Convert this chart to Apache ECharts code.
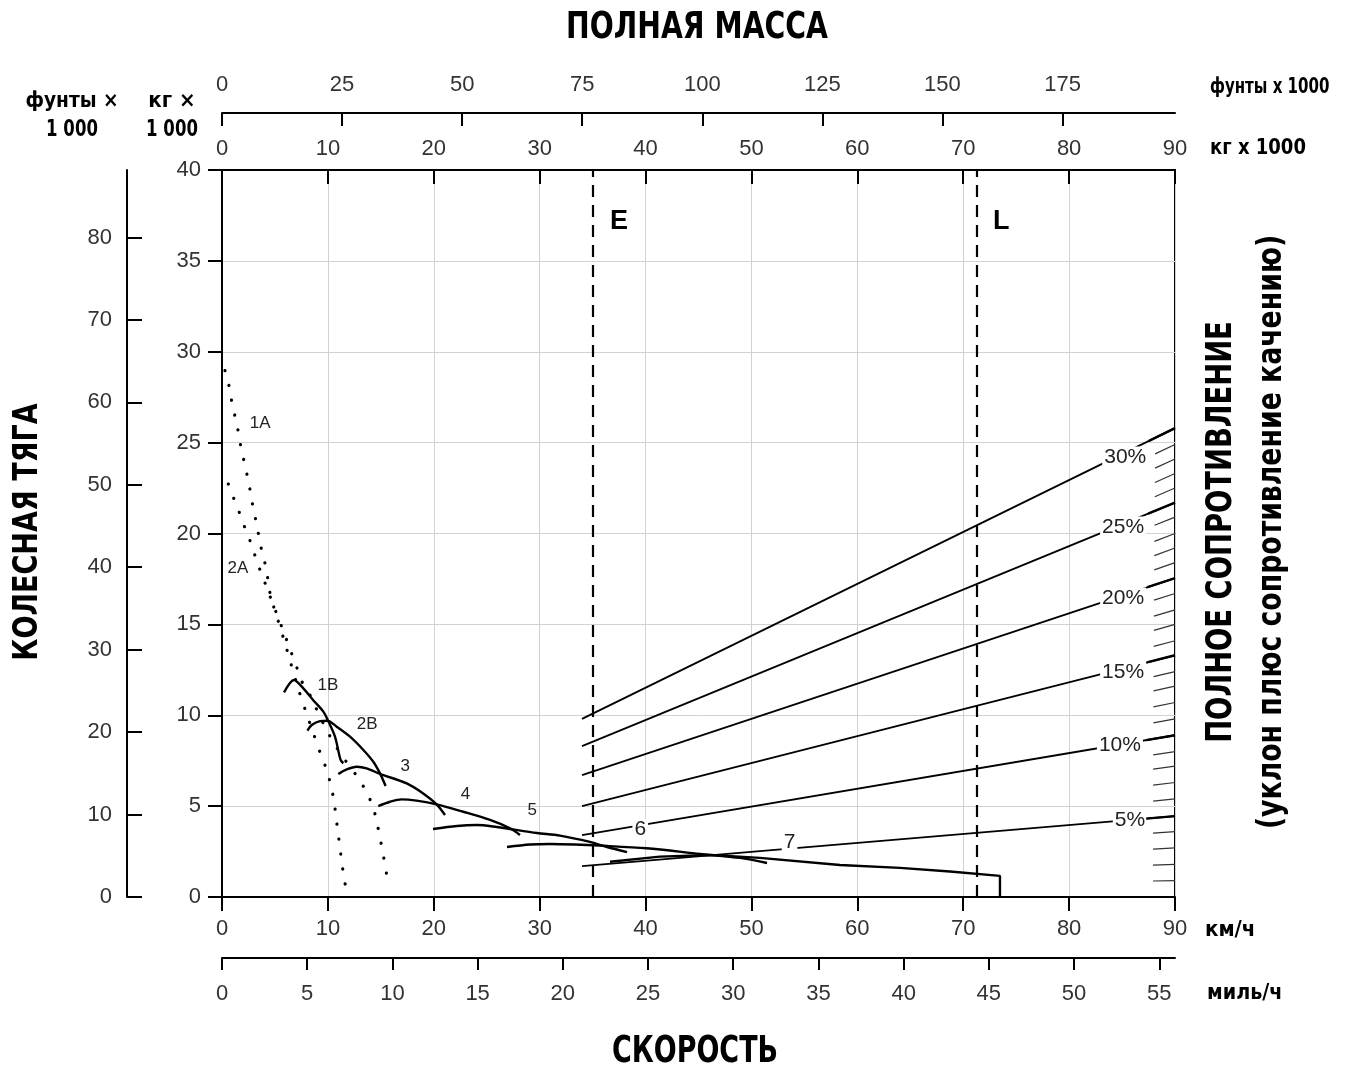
<!DOCTYPE html>
<html><head><meta charset="utf-8">
<script src="https://cdn.jsdelivr.net/npm/echarts@6/dist/echarts.min.js"></script>
<style>html,body{margin:0;padding:0;background:#fff}#c{width:1359px;height:1066px}</style>
</head><body><div id="c"></div><script>
// ---- tick labels ----
const massKgTicks = [0, 10, 20, 30, 40, 50, 60, 70, 80, 90];
const massLbTicks = [0, 25, 50, 75, 100, 125, 150, 175];
const speedMphTicks = [0, 5, 10, 15, 20, 25, 30, 35, 40, 45, 50, 55];
const pullKgTicks = [0, 5, 10, 15, 20, 25, 30, 35, 40];
const pullLbTicks = [0, 10, 20, 30, 40, 50, 60, 70, 80];

// ---- rimpull curves: [speed km/h, rimpull kg x 1000] ----
const gear1A = [[0.28,28.96],[0.66,28.13],[0.91,27.29],[1.23,26.43],[1.54,25.6],[1.79,24.74],[2.11,23.9],[2.42,23.07],[2.71,22.21],[2.96,21.35],[3.27,20.52],[3.53,19.68],[3.84,18.82],[4.22,17.99],[4.41,17.07],[4.78,16.16],[5.16,15.46],[5.86,14.14],[6.52,12.82],[7.18,11.5],[7.93,10.18],[8.69,8.91],[9.35,7.81],[9.92,6.93],[10.29,6.11],[10.58,5.28],[10.77,4.4],[10.95,3.58],[11.14,2.7],[11.33,1.87],[11.52,1.05],[11.8,0.22]];
const gear2A = [[0.6,22.72],[1.13,21.9],[1.7,21.06],[2.24,20.19],[2.8,19.37],[3.27,18.5],[3.81,17.66],[4.37,16.8],[5.1,15.68],[5.86,14.53],[6.52,13.48],[7.08,12.6],[7.65,11.72],[8.47,10.95],[9.09,10.12],[9.89,9.19],[10.67,8.36],[11.62,7.54],[12.72,6.66],[13.6,5.83],[14.26,4.95],[14.64,4.07],[14.92,3.25],[15.2,2.42],[15.44,1.6],[15.7,0.77]];
const gear1B = [[5.86,11.26],[6.8,11.94],[7.68,11.48],[8.6,10.84],[9.57,10.2],[9.95,9.78],[10.67,8.82],[11.2,7.54],[11.46,7.36]];
const gear2B = [[8.06,9.15],[8.47,9.46],[9.25,9.68],[9.95,9.7],[10.83,9.37],[12.09,8.82],[13.35,8.09],[14.29,7.44],[14.92,6.8],[15.45,6.11]];
const gear3 = [[10.98,6.77],[11.78,7.02],[12.72,7.17],[13.66,7.08],[14.92,6.77],[17.44,6.25],[19.0,5.7],[20.27,5.1],[21.06,4.51]];
const gear4 = [[14.76,5.0],[15.87,5.24],[16.97,5.37],[18.38,5.3],[20.27,5.1],[22.79,4.69],[25.31,4.24],[27.2,3.78],[28.14,3.41]];
const gear5 = [[19.93,3.74],[22.19,3.91],[24.08,3.96],[25.97,3.85],[27.2,3.74],[29.75,3.52],[31.92,3.38],[34.75,3.03],[36.36,2.75],[38.25,2.47]];
const gear6 = [[26.91,2.75],[29.09,2.89],[30.98,2.92],[33.34,2.89],[35.7,2.83],[40.1,2.68],[45.14,2.37],[48.92,2.15],[51.47,1.87]];
const gear7 = [[36.64,1.94],[41.36,2.22],[46.09,2.31],[50.8,2.15],[58.36,1.76],[64.03,1.6],[68.75,1.4],[73.47,1.16],[73.47,0]];

// ---- total resistance (grade) lines: value at mass 34 and at mass 90 ----
const gradeNames = ['5%', '10%', '15%', '20%', '25%', '30%'];
const gradeMassRange = [34, 90];
const gradeStart = [1.7, 3.4, 5.0, 6.7, 8.3, 9.8];
const gradeEnd = [4.45, 8.9, 13.3, 17.55, 21.7, 25.8];

// ---- grade scale ticks on right edge (value at mass 90) ----
const hatchGrades = [1,2,3,4,5,6,7,8,9,10,11,12,13,14,15,16,17,18,19,20,21,22,23,24,25,26,27,28,29,30];
const hatchValues = [0.9,1.8,2.7,3.6,4.45,5.4,6.3,7.2,8.0,8.9,9.8,10.7,11.6,12.4,13.3,14.1,15.0,15.8,16.7,17.55,18.4,19.2,20.0,20.9,21.7,22.5,23.3,24.1,24.9,25.8];

// ---- empty / loaded mass markers ----
const markerNames = ['E', 'L'];
const markerMass = [35, 71.3];

const LB_PER_KG = 2.20462;
const KMH_PER_MPH = 1.609344;

const numFont = "'Liberation Sans', Arial, sans-serif";
const boldFont = "'Liberation Sans Narrow', 'DejaVu Sans Condensed', 'Arial Narrow', sans-serif";

const chart = echarts.init(document.getElementById('c'), null, {renderer: 'canvas'});

function gearSeries(name, data, dotted, smooth) {
  return {
    name: name, type: 'line', data: data, showSymbol: false, symbol: 'none',
    smooth: smooth, z: 5, silent: true,
    lineStyle: dotted
      ? {color: '#000', width: 3.2, type: [0.1, 15], cap: 'round'}
      : {color: '#000', width: 2.4}
  };
}

const series = [
  gearSeries('1A', gear1A, true, 0.3),
  gearSeries('2A', gear2A, true, 0.3),
  gearSeries('1B', gear1B, false, 0.3),
  gearSeries('2B', gear2B, false, 0.3),
  gearSeries('3', gear3, false, 0.3),
  gearSeries('4', gear4, false, 0.3),
  gearSeries('5', gear5, false, 0.3),
  gearSeries('6', gear6, false, 0.3),
  gearSeries('7', gear7, false, false)
];

gradeNames.forEach(function (g, i) {
  series.push({
    name: g, type: 'line', showSymbol: false, symbol: 'none', z: 4, silent: true,
    data: [[gradeMassRange[0], gradeStart[i]], [gradeMassRange[1], gradeEnd[i]]],
    lineStyle: {color: '#000', width: 1.8}
  });
});

series.push({
  type: 'custom', z: 8, silent: true,
  data: hatchGrades.map(function (g, i) { return [g, hatchValues[i]]; }),
  renderItem: function (params, api) {
    const g = api.value(0), v = api.value(1);
    const p1 = api.coord([massKgTicks[massKgTicks.length - 1], v]);
    const p0 = api.coord([0, 0]);
    const dx = p0[0] - p1[0], dy = p0[1] - p1[1];
    const L = Math.hypot(dx, dy);
    const major = g % 5 === 0;
    const len = major ? 29 : 22;
    return {
      type: 'line',
      shape: {x1: p1[0], y1: p1[1], x2: p1[0] + dx / L * len, y2: p1[1] + dy / L * len},
      style: {stroke: major ? '#000' : '#333', lineWidth: major ? 2.4 : 1.2}
    };
  }
});

function lbl(name, x, y, opts) {
  return Object.assign({name: name, value: [x, y]}, opts ? {label: opts} : {});
}
const whiteBg = {backgroundColor: '#fff', padding: [0, 2]};
series.push({
  type: 'scatter', z: 7, silent: true, symbolSize: 1,
  itemStyle: {color: 'rgba(0,0,0,0)', opacity: 1},
  label: {show: true, position: 'inside', formatter: '{b}', color: '#222', opacity: 1, textBorderWidth: 0, textBorderColor: 'transparent', fontSize: 17, fontFamily: numFont},
  data: [
    lbl('1A', 3.6, 26.08), lbl('2A', 1.5, 18.1), lbl('1B', 10.0, 11.66), lbl('2B', 13.7, 9.52),
    lbl('3', 17.3, 7.21), lbl('4', 23.0, 5.67), lbl('5', 29.3, 4.79),
    lbl('6', 39.5, 3.72, Object.assign({fontSize: 21}, whiteBg)),
    lbl('7', 53.6, 3.03, Object.assign({fontSize: 21}, whiteBg)),
    lbl('30%', 85.3, 24.21, Object.assign({fontSize: 21}, whiteBg)),
    lbl('25%', 85.1, 20.36, Object.assign({fontSize: 21}, whiteBg)),
    lbl('20%', 85.1, 16.45, Object.assign({fontSize: 21}, whiteBg)),
    lbl('15%', 85.1, 12.38, Object.assign({fontSize: 21}, whiteBg)),
    lbl('10%', 84.8, 8.36, Object.assign({fontSize: 21}, whiteBg)),
    lbl('5%', 85.75, 4.24, Object.assign({fontSize: 21}, whiteBg)),
    lbl(markerNames[0], markerMass[0] + 2.5, 37.14, {fontSize: 27, fontWeight: 'bold', color: '#000', fontFamily: numFont}),
    lbl(markerNames[1], markerMass[1] + 2.3, 37.14, {fontSize: 27, fontWeight: 'bold', color: '#000', fontFamily: numFont})
  ],
  markLine: {
    silent: true, symbol: 'none', label: {show: false},
    lineStyle: {color: '#000', width: 2.2, type: [12, 8], opacity: 1},
    data: markerMass.map(function (m) { return {xAxis: m}; })
  }
});

const tickLabel = {color: '#333', fontSize: 22, fontFamily: numFont};
const blackLine = {show: true, onZero: false, lineStyle: {color: '#000', width: 2}};
const blackTick = {lineStyle: {color: '#000', width: 2}};

function btext(t, x, y, size, sx, align, rot) {
  return {
    type: 'text', x: x, y: y, rotation: rot || 0, scaleX: sx,
    style: {text: t, font: 'bold ' + size + 'px ' + boldFont, fill: '#000', align: align || 'center', verticalAlign: 'middle'}
  };
}

const option = {
  animation: false,
  backgroundColor: '#fff',
  grid: {left: 222, right: 184, top: 170, bottom: 169, show: true, borderColor: '#000', borderWidth: 2, backgroundColor: 'transparent'},
  xAxis: [
    { // km/h bottom
      type: 'value', min: 0, max: 90, interval: 10, position: 'bottom',
      axisLine: blackLine,
      axisTick: Object.assign({show: true, inside: false, length: 14}, blackTick),
      axisLabel: Object.assign({margin: 21}, tickLabel),
      splitLine: {show: true, lineStyle: {color: '#d2d2d2', width: 1}}
    },
    { // kg x 1000 top
      type: 'value', min: 0, max: 90, interval: 10, position: 'top',
      axisLine: blackLine,
      axisTick: Object.assign({show: true, inside: true, length: 14, customValues: massKgTicks}, blackTick),
      axisLabel: Object.assign({margin: 10, customValues: massKgTicks}, tickLabel),
      splitLine: {show: false}
    },
    { // lb x 1000 top
      type: 'value', min: 0, max: 90 * LB_PER_KG, position: 'top', offset: 57,
      axisLine: blackLine,
      axisTick: Object.assign({show: true, inside: true, length: 13, customValues: massLbTicks}, blackTick),
      axisLabel: Object.assign({margin: 17, customValues: massLbTicks}, tickLabel),
      splitLine: {show: false}
    },
    { // mph bottom
      type: 'value', min: 0, max: 90 / KMH_PER_MPH, position: 'bottom', offset: 61,
      axisLine: blackLine,
      axisTick: Object.assign({show: true, inside: false, length: 12, customValues: speedMphTicks}, blackTick),
      axisLabel: Object.assign({margin: 25, customValues: speedMphTicks}, tickLabel),
      splitLine: {show: false}
    }
  ],
  yAxis: [
    {
      type: 'value', min: 0, max: 40, interval: 5, position: 'left',
      axisLine: blackLine,
      axisTick: Object.assign({show: true, inside: false, length: 14}, blackTick),
      axisLabel: Object.assign({margin: 21}, tickLabel),
      splitLine: {show: true, lineStyle: {color: '#d2d2d2', width: 1}}
    },
    {
      type: 'value', min: 0, max: 40 * LB_PER_KG, position: 'left', offset: 95,
      axisLine: blackLine,
      axisTick: Object.assign({show: true, inside: true, length: 15, customValues: pullLbTicks}, blackTick),
      axisLabel: Object.assign({margin: 15, customValues: pullLbTicks}, tickLabel),
      splitLine: {show: false}
    }
  ],
  series: series,
  graphic: [
    btext('ПОЛНАЯ МАССА', 697, 28, 37, 0.85),
    btext('СКОРОСТЬ', 695, 1052, 37, 0.81),
    btext('КОЛЕСНАЯ ТЯГА', 28, 532, 34, 0.885, 'center', Math.PI / 2),
    btext('ПОЛНОЕ СОПРОТИВЛЕНИЕ', 1222, 532, 35, 0.87, 'center', Math.PI / 2),
    btext('(уклон плюс сопротивление качению)', 1272, 532, 33, 0.9, 'center', Math.PI / 2),
    btext('фунты ×', 72, 101, 22, 0.94),
    btext('1 000', 72, 130, 23, 0.8),
    btext('кг ×', 172, 101, 22, 1),
    btext('1 000', 172, 130, 23, 0.8),
    btext('фунты x 1000', 1210, 87, 22, 0.76, 'left'),
    btext('кг x 1000', 1210, 148, 22, 0.91, 'left'),
    btext('км/ч', 1205, 930, 22, 1, 'left'),
    btext('миль/ч', 1207, 993, 22, 0.97, 'left')
  ]
};
chart.setOption(option);
</script></body></html>
